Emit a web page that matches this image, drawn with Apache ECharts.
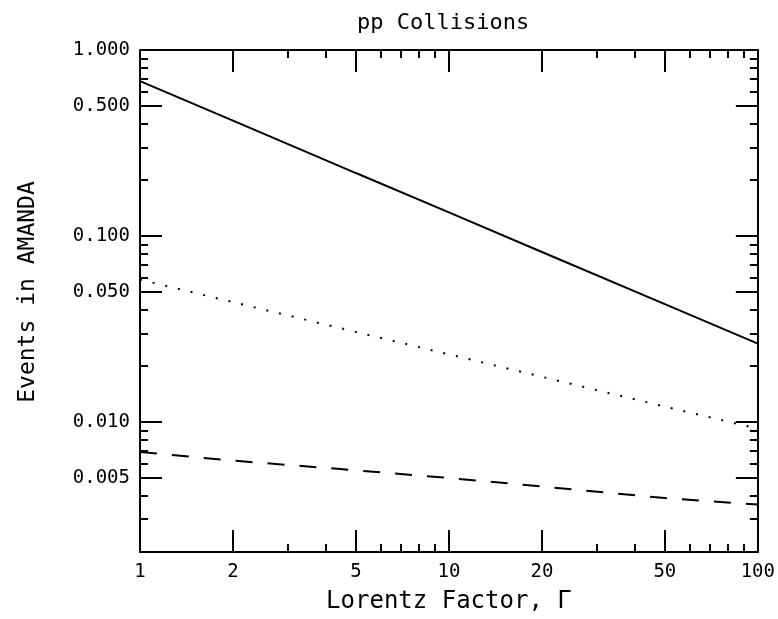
<!DOCTYPE html>
<html>
<head>
<meta charset="utf-8">
<script src="https://cdn.jsdelivr.net/npm/echarts@6/dist/echarts.min.js"></script>
<style>html,body{margin:0;padding:0;background:#fff}#c{width:778px;height:619px}</style>
</head>
<body>
<div id="c"></div>
<script>
// Lorentz factor samples
const gamma = [1, 2, 5, 10, 20, 50, 100];
// Events in AMANDA
const solidVals  = [0.68, 0.417, 0.218, 0.134, 0.082, 0.043, 0.0264];
const dottedVals = [0.0583, 0.0441, 0.0305, 0.0231, 0.0175, 0.0121, 0.0092];
const dashedVals = [0.0069, 0.0062, 0.0055, 0.0050, 0.0045, 0.0039, 0.0036];

// tick definitions
const xLabelVals = [1, 2, 5, 10, 20, 50, 100];
const xMajorTicks = [2, 5, 10, 20, 50];
const xMinorTicks = [3, 4, 6, 7, 8, 9, 30, 40, 60, 70, 80, 90];
const yLabelVals = [0.005, 0.01, 0.05, 0.1, 0.5, 1];
const yMajorTicks = [0.005, 0.01, 0.05, 0.1, 0.5];
const yMinorTicks = [0.003, 0.004, 0.006, 0.007, 0.008, 0.009, 0.02, 0.03, 0.04,
                     0.06, 0.07, 0.08, 0.09, 0.2, 0.3, 0.4, 0.6, 0.7, 0.8, 0.9];

const FONT = 'DejaVu Sans Mono';
const zip = (xs, ys) => xs.map((x, i) => [x, ys[i]]);

function xAx(pos, ticks, len, labels, showLine, name) {
  return {
    type: 'log', logBase: 10, min: 1, max: 100, position: pos,
    axisLine: {show: showLine, onZero: false, lineStyle: {color: '#000', width: 2}},
    axisTick: {show: true, inside: true, length: len, customValues: ticks,
               lineStyle: {color: '#000', width: 2}},
    axisLabel: labels ? {show: true, customValues: xLabelVals, margin: 11,
               color: '#000', fontFamily: FONT, fontSize: 19,
               formatter: v => String(Math.round(v))} : {show: false},
    splitLine: {show: false}, minorTick: {show: false},
    name: name || '', nameLocation: 'middle', nameGap: 38,
    nameTextStyle: {color: '#000', fontFamily: FONT, fontSize: 24}
  };
}
function yAx(pos, ticks, len, labels, showLine, name) {
  return {
    type: 'log', logBase: 10, min: 0.002, max: 1, position: pos,
    axisLine: {show: showLine, onZero: false, lineStyle: {color: '#000', width: 2}},
    axisTick: {show: true, inside: true, length: len, customValues: ticks,
               lineStyle: {color: '#000', width: 2}},
    axisLabel: labels ? {show: true, customValues: yLabelVals, margin: 10,
               color: '#000', fontFamily: FONT, fontSize: 19,
               formatter: v => v.toFixed(3)} : {show: false},
    splitLine: {show: false}, minorTick: {show: false},
    name: name || '', nameLocation: 'middle', nameGap: 100,
    nameTextStyle: {color: '#000', fontFamily: FONT, fontSize: 23, padding: [0, 0, 0, 18]}
  };
}

const chart = echarts.init(document.getElementById('c'), null, {renderer: 'canvas'});
chart.setOption({
  animation: false,
  backgroundColor: '#fff',
  title: {text: 'pp Collisions', left: 352, top: 7,
          textStyle: {color: '#000', fontFamily: FONT, fontSize: 22, fontWeight: 'normal'}},
  grid: {left: 140, right: 20, top: 50, bottom: 59, containLabel: false},
  xAxis: [
    xAx('bottom', xMajorTicks, 22, true, true, 'Lorentz Factor, \u0393'),
    xAx('bottom', xMinorTicks, 8, false, false),
    xAx('top', xMajorTicks, 22, false, true),
    xAx('top', xMinorTicks, 8, false, false)
  ],
  yAxis: [
    yAx('left', yMajorTicks, 22, true, true, 'Events in AMANDA'),
    yAx('left', yMinorTicks, 8, false, false),
    yAx('right', yMajorTicks, 22, false, true),
    yAx('right', yMinorTicks, 8, false, false)
  ],
  series: [
    {type: 'line', name: 'solid', data: zip(gamma, solidVals), showSymbol: false,
     xAxisIndex: 0, yAxisIndex: 0,
     lineStyle: {color: '#000', width: 2, type: 'solid'}},
    {type: 'line', name: 'dotted', data: zip(gamma, dottedVals), showSymbol: false,
     xAxisIndex: 0, yAxisIndex: 0,
     lineStyle: {color: '#000', width: 2, type: [2, 11]}},
    {type: 'line', name: 'dashed', data: zip(gamma, dashedVals), showSymbol: false,
     xAxisIndex: 0, yAxisIndex: 0,
     lineStyle: {color: '#000', width: 2, type: [17, 15]}}
  ]
});
</script>
</body>
</html>
